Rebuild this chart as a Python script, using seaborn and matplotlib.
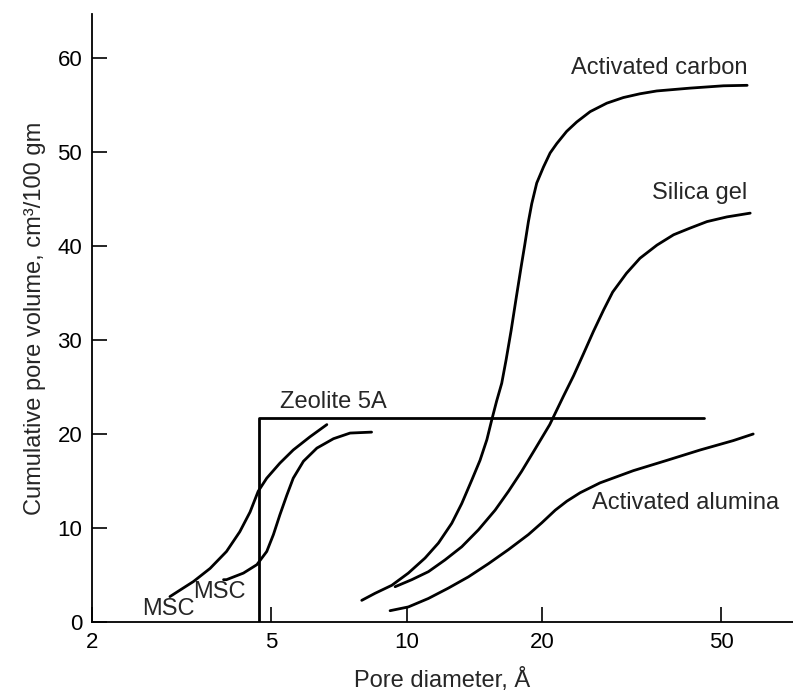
import matplotlib
matplotlib.use("Agg")
import matplotlib.pyplot as plt
import seaborn as sns
from matplotlib.ticker import NullLocator

# Pore diameter (Angstrom) and cumulative pore volume (cm3/100 gm)
msc1_x = [2.98, 3.14, 3.36, 3.66, 3.98, 4.26, 4.49, 4.68, 4.89, 5.23, 5.60, 6.10, 6.65]
msc1_y = [2.7, 3.4, 4.3, 5.7, 7.5, 9.6, 11.7, 13.9, 15.3, 16.9, 18.3, 19.7, 21.0]

msc2_x = [3.92, 3.98, 4.34, 4.65, 4.89, 5.06, 5.23, 5.42, 5.60, 5.90, 6.32, 6.88, 7.49, 8.36]
msc2_y = [4.5, 4.5, 5.2, 6.1, 7.5, 9.3, 11.4, 13.5, 15.3, 17.1, 18.5, 19.5, 20.1, 20.2]

zeolite_x = [4.70, 4.70, 45.8]
zeolite_y = [0.0, 21.7, 21.7]

carbon_x = [7.95, 8.51, 9.27, 10.09, 10.99, 11.77, 12.6, 13.26, 13.96, 14.56, 15.08, 15.46,
            15.85, 16.27, 16.64, 17.07, 17.51, 17.97, 18.3, 18.65, 18.97, 19.46, 20.14,
            20.84, 21.56, 22.68, 23.88, 25.58, 27.85, 30.32, 33.0, 35.96, 42.6, 50.6, 57.1]
carbon_y = [2.3, 3.05, 3.9, 5.2, 6.8, 8.4, 10.5, 12.6, 15.1, 17.2, 19.4, 21.5,
            23.5, 25.4, 27.9, 31.0, 34.4, 37.8, 40.1, 42.6, 44.5, 46.7, 48.4,
            49.9, 50.9, 52.2, 53.2, 54.3, 55.2, 55.8, 56.2, 56.5, 56.8, 57.05, 57.1]

silica_x = [9.43, 10.27, 11.18, 12.17, 13.26, 14.44, 15.73, 16.84, 18.0, 19.3, 20.8,
            22.3, 23.5, 24.7, 26.0, 27.4, 28.7, 30.8, 33.0, 36.0, 39.2, 42.6, 46.5,
            51.5, 58.0]
silica_y = [3.75, 4.5, 5.35, 6.6, 8.0, 9.8, 11.9, 13.9, 16.0, 18.4, 21.0,
            24.0, 26.2, 28.5, 30.9, 33.2, 35.1, 37.1, 38.7, 40.1, 41.2, 41.9, 42.6,
            43.1, 43.5]

alumina_x = [9.19, 10.09, 11.18, 12.38, 13.72, 15.2, 16.84, 18.65, 19.97, 21.4, 22.7,
             24.3, 26.9, 31.9, 37.9, 44.9, 53.2, 58.9]
alumina_y = [1.2, 1.6, 2.5, 3.6, 4.8, 6.2, 7.7, 9.3, 10.55, 11.9, 12.85,
             13.75, 14.8, 16.1, 17.2, 18.3, 19.3, 20.0]

x_ticks = [2, 5, 10, 20, 50]
y_ticks = [0, 10, 20, 30, 40, 50, 60]


def draw_curve(ax, x, y):
    sns.lineplot(x=x, y=y, ax=ax, color="black", linewidth=2,
                 sort=False, estimator=None)


sns.set_style("ticks")
plt.rcParams["font.family"] = ["Liberation Sans", "DejaVu Sans"]

fig = plt.figure(figsize=(7.93, 6.91), dpi=100)
ax = fig.add_axes([0.116, 0.0999, 0.884, 0.880])
ax.set_xscale("log")

for xs, ys in [(msc1_x, msc1_y), (msc2_x, msc2_y), (zeolite_x, zeolite_y),
               (carbon_x, carbon_y), (silica_x, silica_y), (alumina_x, alumina_y)]:
    draw_curve(ax, xs, ys)

# Curve labels
ax.text(2.58, 1.4, "MSC", fontsize=17, ha="left", va="center")
ax.text(3.35, 3.2, "MSC", fontsize=17, ha="left", va="center")
ax.text(5.23, 23.4, "Zeolite 5A", fontsize=17, ha="left", va="center")
ax.text(57.1, 58.9, "Activated carbon", fontsize=17, ha="right", va="center")
ax.text(57.1, 45.6, "Silica gel", fontsize=17, ha="right", va="center")
ax.text(25.8, 12.7, "Activated alumina", fontsize=17, ha="left", va="center")

ax.set_xlim(2, 72.2)
ax.set_ylim(0, 64.7)
ax.set_xticks(x_ticks)
ax.set_xticklabels([str(t) for t in x_ticks])
ax.xaxis.set_minor_locator(NullLocator())
ax.set_yticks(y_ticks)
ax.tick_params(direction="in", length=11, width=1.2, labelsize=16, pad=7, colors="black")

ax.set_xlabel("Pore diameter, Å", fontsize=17, labelpad=11)
ax.set_ylabel("Cumulative pore volume, cm³/100 gm", fontsize=17, labelpad=8)

sns.despine(ax=ax)
for side in ["left", "bottom"]:
    ax.spines[side].set_linewidth(1.3)
    ax.spines[side].set_color("black")

fig.savefig("out.png", dpi=100)
